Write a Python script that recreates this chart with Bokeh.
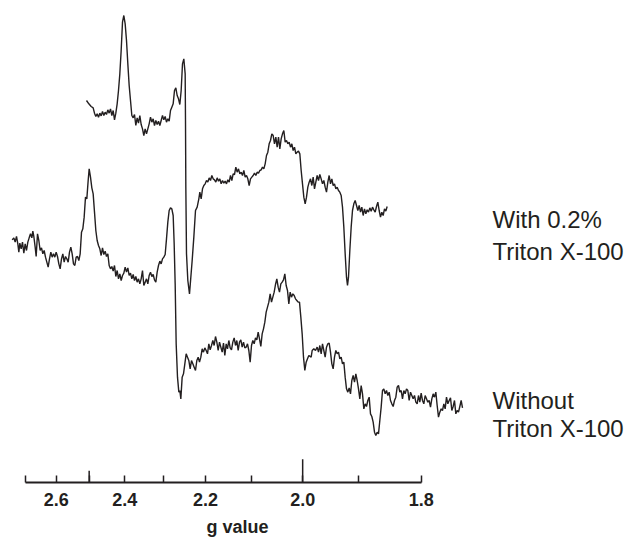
from bokeh.plotting import figure
from bokeh.models import Range1d, FixedTicker, CustomJSTickFormatter, Label
from bokeh.embed import file_html
from bokeh.resources import INLINE

# h*nu/muB in gauss (nu ~ 8.965 GHz): B = K / g
K = 6405.0

# ---- spectrum with 0.2% Triton X-100 (field in G, intensity arb. units incl. offset)
with_field = [
    2554, 2561, 2568, 2574, 2578, 2582, 2586, 2590, 2594, 2598,
    2602, 2606, 2610, 2614, 2618, 2622, 2626, 2630, 2634, 2638,
    2642, 2646, 2650, 2654, 2658, 2662, 2666, 2670, 2674, 2678,
    2682, 2686, 2690, 2694, 2698, 2702, 2706, 2710, 2714, 2718,
    2722, 2726, 2730, 2734, 2738, 2742, 2746, 2750, 2754, 2758,
    2762, 2766, 2770, 2774, 2778, 2782, 2786, 2790, 2794, 2798,
    2802, 2806, 2810, 2814, 2818, 2822, 2826, 2830, 2834, 2838,
    2842, 2846, 2850,
    2851, 2852, 2854, 2858, 2863,
    2871, 2876, 2881, 2886, 2891, 2894, 2898, 2902, 2906, 2910,
    2914, 2918, 2922, 2926, 2930, 2934, 2938, 2942, 2946, 2950,
    2954, 2958, 2962, 2966, 2970, 2974, 2978, 2982, 2986, 2990,
    2994, 2998, 3002, 3006, 3010, 3014, 3018, 3022, 3026, 3030,
    3034, 3038, 3042, 3046, 3050, 3054, 3058, 3062, 3066, 3070,
    3074, 3078, 3082, 3086, 3090, 3094, 3098, 3102, 3106, 3110,
    3114, 3118, 3122, 3126, 3130, 3134, 3138, 3142, 3146, 3150,
    3154, 3158, 3162, 3166, 3170, 3174, 3178, 3182, 3186, 3190,
    3194, 3198, 3202, 3206, 3210, 3214, 3218, 3222, 3226, 3230,
    3234, 3238, 3242, 3246, 3250, 3254, 3258, 3262, 3266, 3270,
    3274, 3278, 3282, 3286, 3290, 3294, 3298, 3302, 3306, 3310,
    3314, 3318, 3322, 3326, 3330, 3334, 3337, 3340, 3344, 3348,
    3352, 3356, 3360, 3364, 3368, 3372, 3376, 3380, 3384, 3388,
    3392, 3396, 3400, 3404, 3408, 3412, 3416, 3420, 3424, 3428,
    3432, 3436, 3440, 3444, 3448, 3452, 3456,
]
with_signal = [
    1146, 1136, 1128, 1124, 1108, 1098, 1106, 1096, 1108, 1100,
    1113, 1101, 1111, 1104, 1118, 1108, 1121, 1101, 1116, 1088,
    1108, 1136, 1176, 1226, 1296, 1381, 1401, 1376, 1326, 1256,
    1191, 1146, 1101, 1094, 1104, 1071, 1094, 1078, 1101, 1074,
    1061, 1041, 1061, 1046, 1061, 1076, 1096, 1081, 1091, 1071,
    1086, 1074, 1084, 1071, 1086, 1101, 1088, 1098, 1081, 1091,
    1084, 1116, 1126, 1136, 1176, 1184, 1161, 1151, 1134, 1176,
    1256, 1271, 1226,
    1086, 886, 686, 606, 566,
    666, 736, 816, 826, 851, 871, 851, 881, 891, 896,
    906, 901, 914, 906, 921, 911, 908, 901, 914, 904,
    911, 896, 906, 898, 904, 896, 908, 901, 921, 906,
    926, 924, 946, 931, 941, 926, 931, 921, 936, 916,
    921, 911, 891, 911, 916, 921, 928, 921, 931, 928,
    936, 938, 946, 941, 956, 981, 991, 1016, 1026, 1046,
    1041, 1016, 1036, 1006, 1036, 1001, 1031, 1046, 1056, 1021,
    1026, 1016, 1021, 1006, 1016, 996, 1006, 986, 991, 994,
    986, 936, 896, 856, 836, 856, 886, 901, 911, 891,
    916, 881, 901, 921, 906, 924, 911, 896, 906, 886,
    871, 901, 921, 896, 911, 891, 896, 881, 886, 876,
    871, 861, 826, 766, 686, 616, 591, 616, 696, 766,
    816, 836, 846, 831, 816, 831, 811, 826, 801, 821,
    806, 818, 811, 824, 814, 826, 818, 811, 828, 841,
    816, 796, 811, 801, 821, 814, 828,
]

# ---- spectrum without Triton X-100
without_field = [
    2331, 2336, 2340, 2344, 2348, 2351, 2354, 2358, 2362, 2366,
    2370, 2374, 2378, 2382, 2386, 2390, 2393, 2396, 2400, 2403,
    2407, 2411, 2415, 2419, 2423, 2427, 2431, 2435, 2439, 2443,
    2447, 2451, 2455, 2459, 2463, 2467, 2471, 2475, 2479, 2483,
    2487, 2491, 2495, 2499, 2503, 2507, 2511, 2515, 2519, 2523,
    2527, 2531, 2535, 2539, 2543, 2547, 2551, 2555, 2559, 2562,
    2566, 2570, 2574, 2578, 2582, 2586, 2590, 2594, 2598, 2602,
    2606, 2610, 2614, 2618, 2622, 2626, 2630, 2634, 2638, 2642,
    2646, 2650, 2654, 2658, 2662, 2666, 2670, 2674, 2678, 2682,
    2686, 2690, 2694, 2698, 2702, 2706, 2710, 2714, 2718, 2722,
    2726, 2730, 2734, 2738, 2742, 2746, 2750, 2754, 2758, 2762,
    2766, 2770, 2774, 2778, 2782, 2786, 2790, 2794, 2798, 2802,
    2806, 2810, 2814, 2817, 2820,
    2823, 2827, 2831, 2834, 2837, 2841, 2845, 2849, 2853, 2857,
    2861, 2865, 2869, 2873, 2877, 2881, 2885, 2889, 2893, 2897,
    2901, 2905, 2909, 2913, 2917, 2921, 2925, 2929, 2933, 2937,
    2941, 2945, 2949, 2953, 2957, 2961, 2965, 2969, 2973, 2977,
    2981, 2985, 2989, 2993, 2997, 3001, 3005, 3009, 3013, 3017,
    3021, 3025, 3029, 3033, 3037, 3041, 3045, 3049, 3053, 3057,
    3061, 3065, 3069, 3073, 3077, 3081, 3085, 3089, 3093, 3097,
    3101, 3105, 3109, 3113, 3117, 3121, 3125, 3129, 3133, 3137,
    3141, 3145, 3149, 3153, 3157, 3161, 3165, 3169, 3173, 3177,
    3181, 3185, 3189, 3193, 3197, 3201, 3205, 3209, 3213, 3217,
    3221,
    3228, 3231, 3236, 3241, 3246, 3250, 3254, 3258, 3262, 3266,
    3270, 3274, 3278, 3282, 3286, 3290, 3294, 3298, 3302, 3306,
    3310, 3314, 3318, 3322, 3326, 3330, 3334, 3338, 3342, 3346,
    3350, 3354, 3358, 3362, 3366, 3370, 3374, 3378, 3382, 3386,
    3390, 3394, 3398, 3402, 3406, 3410, 3414, 3418, 3422, 3426,
    3430, 3434, 3438, 3442, 3446, 3450, 3454, 3458, 3462, 3466,
    3470, 3474, 3478, 3482, 3486, 3490, 3494, 3498, 3502, 3506,
    3510, 3514, 3518, 3522, 3526, 3530, 3534, 3538, 3542, 3546,
    3550, 3554, 3558, 3562, 3566, 3570, 3574, 3578, 3582, 3586,
    3590, 3594, 3598, 3602, 3606, 3610, 3614, 3618, 3622, 3626,
    3630, 3634, 3638, 3642, 3646, 3650, 3654, 3658, 3662, 3666,
    3670, 3674, 3678, 3682,
]
without_signal = [
    728, 734, 721, 738, 716, 691, 718, 701, 721, 688,
    716, 696, 721, 734, 746, 734, 754, 738, 706, 678,
    746, 726, 696, 704, 686, 696, 676, 661, 646, 671,
    691, 676, 686, 676, 691, 678, 656, 641, 671, 686,
    661, 678, 671, 661, 691, 706, 686, 656, 651, 676,
    678, 666, 686, 751, 761, 796, 856, 851, 906, 941,
    916, 884, 866, 811, 756, 726, 711, 701, 681, 704,
    684, 694, 678, 686, 651, 641, 648, 634, 651, 618,
    636, 611, 626, 606, 621, 628, 646, 631, 644, 621,
    628, 611, 624, 606, 618, 601, 611, 596, 611, 636,
    591, 601, 611, 596, 621, 631, 618, 624, 608, 601,
    631, 651, 664, 656, 671, 676, 684, 731, 781, 816,
    824, 821, 801, 716, 596,
    416, 316, 271, 276, 251, 316, 326, 356, 386, 376,
    366, 341, 366, 356, 346, 336, 366, 376, 361, 376,
    401, 391, 404, 396, 386, 416, 398, 411, 426, 411,
    438, 421, 396, 421, 406, 391, 418, 381, 416, 401,
    426, 404, 398, 421, 434, 411, 426, 396, 421, 428,
    406, 421, 404, 406, 416, 396, 361, 411, 426, 416,
    434, 428, 451, 431, 408, 446, 461, 481, 511, 526,
    541, 566, 541, 556, 571, 594, 611, 586, 571, 596,
    601, 608, 626, 591, 576, 536, 571, 556, 566, 561,
    551, 546, 541, 541, 496, 446, 376, 336, 361, 371,
    381,
    376, 396, 401, 396, 406, 391, 411, 386, 416, 396,
    376, 406, 416, 418, 391, 356, 341, 376, 396, 386,
    391, 371, 376, 356, 361, 316, 281, 271, 284, 266,
    306, 321, 301, 326, 306, 281, 251, 291, 266, 221,
    236, 228, 246, 256, 206, 198, 181, 151, 141, 151,
    146, 186, 226, 276, 281, 266, 276, 261, 271, 246,
    236, 228, 246, 256, 286, 291, 271, 276, 251, 276,
    266, 281, 276, 246, 271, 261, 251, 261, 241, 236,
    261, 241, 268, 246, 236, 261, 251, 241, 246, 226,
    251, 266, 256, 271, 231, 196, 211, 221, 216, 236,
    221, 256, 236, 246, 254, 216, 228, 246, 206, 216,
    211, 228, 246, 224,
]

# ---- axis (g value) ticks
labelled_g = [2.6, 2.4, 2.2, 2.0, 1.8]
unlabelled_g = [2.7, 2.5, 2.3, 2.1, 1.9]
long_tick_g = [2.5, 2.0]
long_tick_len = [35, 70]
axis_g_span = (2.7, 1.8)
axis_title = "g value"

series_labels = [("With 0.2%", "Triton X-100"), ("Without", "Triton X-100")]

INK = "#231f20"

p = figure(width=634, height=541, output_backend="svg", toolbar_location=None,
           x_range=Range1d(2296, 4198), y_range=Range1d(0, 1446),
           min_border_left=0, min_border_right=0, min_border_top=0,
           min_border_bottom=59, y_axis_location=None)
p.outline_line_color = None
p.grid.visible = False
p.background_fill_color = "white"

p.line(with_field, with_signal, line_color=INK, line_width=1.4)
p.line(without_field, without_signal, line_color=INK, line_width=1.4)

ax = p.xaxis[0]
ax.ticker = FixedTicker(ticks=[K / g for g in labelled_g],
                        minor_ticks=[K / g for g in unlabelled_g])
ax.formatter = CustomJSTickFormatter(args=dict(k=K), code="return (k / tick).toFixed(1);")
ax.bounds = (K / axis_g_span[0] - 0.5, K / axis_g_span[1] + 0.5)
ax.axis_line_color = INK
ax.axis_line_width = 1.8
ax.major_tick_line_color = INK
ax.minor_tick_line_color = INK
ax.major_tick_line_width = 1.5
ax.minor_tick_line_width = 1.5
ax.major_tick_in = 7
ax.major_tick_out = 0
ax.minor_tick_in = 7
ax.minor_tick_out = 0
ax.major_label_standoff = 10
ax.major_label_text_font = "Liberation Sans"
ax.major_label_text_font_style = "bold"
ax.major_label_text_font_size = "18px"
ax.major_label_text_color = INK
# trailing no-break spaces move the centred title left, under the g scale
ax.axis_label = axis_title + "\u00a0" * 32
ax.axis_label_standoff = 8
ax.axis_label_text_font = "Liberation Sans"
ax.axis_label_text_font_style = "bold"
ax.axis_label_text_font_size = "18px"
ax.axis_label_text_color = INK

p.segment(x0=[K / g for g in long_tick_g], x1=[K / g for g in long_tick_g],
          y0=[0] * len(long_tick_g), y1=long_tick_len,
          line_color=INK, line_width=1.5)

label_baselines = [(262.7, 231.0), (82.0, 53.7)]
for (l1, l2), (y1, y2) in zip(series_labels, label_baselines):
    for txt, yy in ((l1, y1), (l2, y2)):
        p.add_layout(Label(x=492, y=yy, x_units="screen", y_units="screen",
                           text=txt, text_baseline="alphabetic",
                           text_font="Liberation Sans", text_font_size="24px",
                           text_color=INK))

open("out.html", "w").write(file_html(p, INLINE))
